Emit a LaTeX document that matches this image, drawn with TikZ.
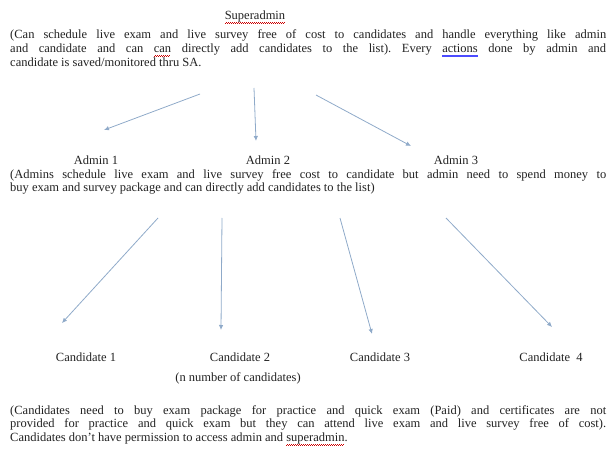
\documentclass[tikz,border=0pt]{standalone}
\usepackage{fontspec}
\setmainfont{Liberation Serif}
\usetikzlibrary{arrows.meta}

\definecolor{linkblue}{HTML}{8FAAC9}
\definecolor{inkgray}{HTML}{222222}

% squiggles the word processor put under some words
\newsavebox\markbox
\newcommand\spellmark[1]{\sbox\markbox{#1}\rlap{\textcolor{red!80!black}{\leaders\hbox{\rule[-3.6pt]{1pt}{.6pt}\rule[-2.8pt]{1pt}{.6pt}}\hskip\wd\markbox}}\usebox\markbox}
\newcommand\grammarmark[1]{\sbox\markbox{#1}\rlap{\textcolor{blue!70}{\rule[-2.4pt]{\wd\markbox}{.5pt}\llap{\rule[-3.6pt]{\wd\markbox}{.5pt}}}}\usebox\markbox}

\tikzset{
  txt/.style={font=\fontsize{12.5}{13.8}\selectfont\frenchspacing, text=inkgray, inner sep=0pt},
  para/.style={txt, text width=596pt, align=justify, anchor=north west},
  link/.style={draw=linkblue, line width=0.8pt, -{Latex[length=5pt,width=4.5pt]}},
}

\begin{document}
\begin{tikzpicture}[x=1pt, y=-1pt]
  \useasboundingbox (0,0) rectangle (616,457);

  % Superadmin
  \node[txt] (sa) at (255,17) {\spellmark{Superadmin}};
  \node[para] (saText) at (10,30) {(Can schedule live exam and live survey free of cost to candidates and handle everything like admin\linebreak
    and candidate and can \spellmark{can} directly add candidates to the list). Every \grammarmark{actions} done by admin and\linebreak
    candidate is saved/monitored thru SA.};

  % Admins
  \node[txt] (ad1) at (96,160) {Admin 1};
  \node[txt] (ad2) at (268,160) {Admin 2};
  \node[txt] (ad3) at (456,160) {Admin 3};
  \node[para] (adText) at (10,169) {(Admins schedule live exam and live survey free cost to candidate but admin need to spend money to\linebreak
    buy exam and survey package and can directly add candidates to the list)};

  % Candidates
  \node[txt] (cd1) at (86,357) {Candidate 1};
  \node[txt] (cd2) at (240,357) {Candidate 2};
  \node[txt] (cdMany) at (238,378) {(n number of candidates)};
  \node[txt] (cd3) at (380,357) {Candidate 3};
  \node[txt] (cd4) at (551,357) {Candidate\ \ 4};
  \node[para] (cdText) at (10,405) {(Candidates need to buy exam package for practice and quick exam (Paid) and certificates are not\linebreak
    provided for practice and quick exam but they can attend live exam and live survey free of cost).\linebreak
    Candidates don't have permission to access admin and \spellmark{superadmin}.};

  % Superadmin -> admins
  \coordinate (saOut1) at (200,94);
  \coordinate (saOut2) at (254,88);
  \coordinate (saOut3) at (316,95);
  \coordinate (ad1In) at (104,130);
  \coordinate (ad2In) at (256,141);
  \coordinate (ad3In) at (411,146);
  \draw[link] (saOut1) -- (ad1In);
  \draw[link] (saOut2) -- (ad2In);
  \draw[link] (saOut3) -- (ad3In);

  % admins -> candidates
  \coordinate (adOut1) at (158,218);
  \coordinate (adOut2) at (222,218);
  \coordinate (adOut3) at (340,218);
  \coordinate (adOut4) at (446,218);
  \coordinate (cd1In) at (62,323);
  \coordinate (cd2In) at (221,330);
  \coordinate (cd3In) at (372,334);
  \coordinate (cd4In) at (552,327);
  \draw[link] (adOut1) -- (cd1In);
  \draw[link] (adOut2) -- (cd2In);
  \draw[link] (adOut3) -- (cd3In);
  \draw[link] (adOut4) -- (cd4In);
\end{tikzpicture}
\end{document}
